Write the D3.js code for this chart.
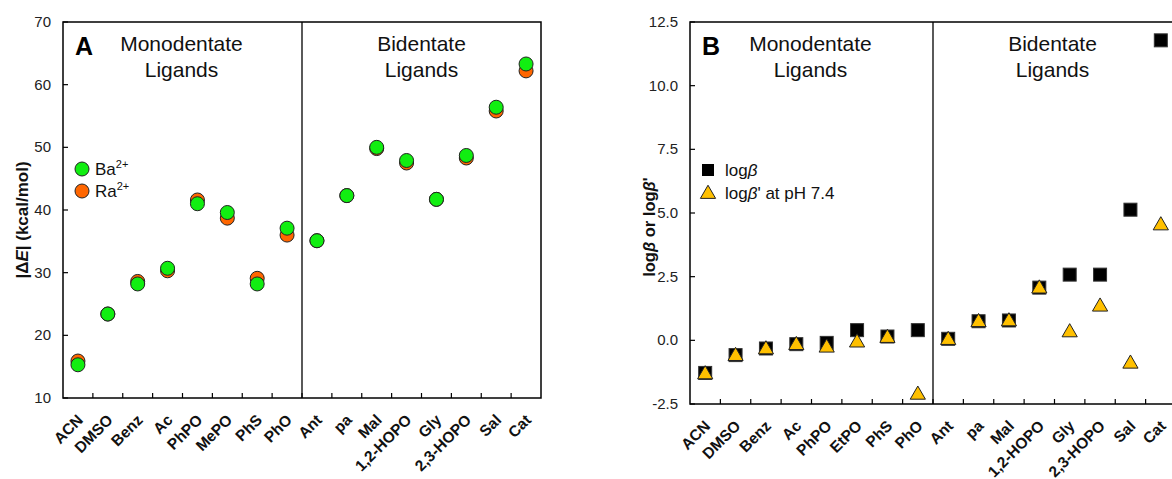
<!DOCTYPE html>
<html>
<head>
<meta charset="utf-8">
<script src="https://cdn.jsdelivr.net/npm/d3@7"></script>
<style>
  body { margin: 0; background: #fff; }
  svg { font-family: "Liberation Sans", Arial, sans-serif; display: block; }
</style>
</head>
<body>
<svg id="chart" width="1172" height="479"></svg>
<script>
// Panel A: |dE| for Ba2+ and Ra2+
const catsA = ["ACN", "DMSO", "Benz", "Ac", "PhPO", "MePO", "PhS", "PhO",
               "Ant", "pa", "Mal", "1,2-HOPO", "Gly", "2,3-HOPO", "Sal", "Cat"];
const baA = [15.3, 23.4, 28.2, 30.7, 41.0, 39.6, 28.2, 37.1,
             35.1, 42.3, 50.0, 47.9, 41.7, 48.7, 56.4, 63.3];
const raA = [15.9, 23.4, 28.6, 30.3, 41.6, 38.7, 29.1, 36.0,
             35.1, 42.3, 49.8, 47.5, 41.7, 48.3, 55.8, 62.2];
const yTicksA = [10, 20, 30, 40, 50, 60, 70];

// Panel B: log beta and conditional log beta' at pH 7.4
const catsB = ["ACN", "DMSO", "Benz", "Ac", "PhPO", "EtPO", "PhS", "PhO",
               "Ant", "pa", "Mal", "1,2-HOPO", "Gly", "2,3-HOPO", "Sal", "Cat"];
const logBeta = [-1.28, -0.58, -0.32, -0.15, -0.10, 0.40, 0.15, 0.40,
                 0.06, 0.75, 0.78, 2.07, 2.58, 2.58, 5.13, 11.78];
const logBetaP = [-1.30, -0.58, -0.32, -0.15, -0.25, -0.05, 0.13, -2.10,
                  0.05, 0.75, 0.78, 2.07, 0.35, 1.36, -0.88, 4.55];
const yTicksB = [-2.5, 0.0, 2.5, 5.0, 7.5, 10.0, 12.5];

const svg = d3.select("#chart");

// shared bits for one panel
function drawPanel(cfg) {
    const g = svg.append("g");
    const x = d3.scaleBand().domain(cfg.cats).range([cfg.x0, cfg.x1]);
    const y = d3.scaleLinear().domain(cfg.yDomain).range([cfg.y1, cfg.y0]);

    // y ticks (inward) + labels
    cfg.yTicks.forEach(t => {
        g.append("line")
            .attr("x1", cfg.x0).attr("x2", cfg.x0 + 5)
            .attr("y1", y(t)).attr("y2", y(t))
            .attr("stroke", "#000").attr("stroke-width", 1.2);
        g.append("text")
            .attr("x", cfg.x0 - 12).attr("y", y(t) + 5)
            .attr("text-anchor", "end")
            .attr("font-size", 15).attr("fill", "#222")
            .text(cfg.yFmt(t));
    });

    // x ticks at category boundaries (inward)
    cfg.cats.forEach((c, i) => {
        if (i === 0) return;
        g.append("line")
            .attr("x1", x(c)).attr("x2", x(c))
            .attr("y1", cfg.y1).attr("y2", cfg.y1 - 5)
            .attr("stroke", "#000").attr("stroke-width", 1.2);
    });

    // divider between mono- and bidentate ligands
    const divX = x(cfg.cats[8]);
    g.append("line")
        .attr("x1", divX).attr("x2", divX)
        .attr("y1", cfg.y0).attr("y2", cfg.y1)
        .attr("stroke", "#000").attr("stroke-width", 1.3);

    // frame
    g.append("rect")
        .attr("x", cfg.x0).attr("y", cfg.y0)
        .attr("width", cfg.x1 - cfg.x0).attr("height", cfg.y1 - cfg.y0)
        .attr("fill", "none").attr("stroke", "#000").attr("stroke-width", 1.5);

    // category labels, rotated
    cfg.cats.forEach(c => {
        const cx = x(c) + x.bandwidth() / 2;
        g.append("text")
            .attr("transform", `translate(${cx + 6},${cfg.y1 + 23}) rotate(-45)`)
            .attr("text-anchor", "end")
            .attr("font-size", 15.5).attr("font-weight", "bold").attr("fill", "#111")
            .text(c);
    });

    // section headings
    const monoCx = (cfg.x0 + divX) / 2 + cfg.headShift;
    const biCx = (divX + cfg.x1) / 2 + cfg.biShift;
    [["Monodentate", monoCx, 0], ["Ligands", monoCx, 26],
     ["Bidentate", biCx, 0], ["Ligands", biCx, 26]].forEach(([t, tx, dy]) => {
        g.append("text")
            .attr("x", tx).attr("y", cfg.y0 + 29 + dy)
            .attr("text-anchor", "middle")
            .attr("font-size", 21).attr("fill", "#111")
            .text(t);
    });

    // panel letter
    g.append("text")
        .attr("x", cfg.x0 + 12).attr("y", cfg.y0 + 33)
        .attr("font-size", 25).attr("font-weight", "bold").attr("fill", "#000")
        .text(cfg.letter);

    return { g, x, y };
}

// ---------- Panel A ----------
const A = drawPanel({
    cats: catsA, x0: 63, x1: 541, y0: 22, y1: 398,
    yDomain: [10, 70], yTicks: yTicksA, yFmt: d3.format("d"),
    letter: "A", headShift: -1, biShift: 0
});
const cxA = c => A.x(c) + A.x.bandwidth() / 2;

A.g.selectAll(".ra").data(catsA).enter().append("circle")
    .attr("cx", d => cxA(d)).attr("cy", (d, i) => A.y(raA[i]))
    .attr("r", 7).attr("fill", "#ff6600").attr("stroke", "#222").attr("stroke-width", 1);
A.g.selectAll(".ba").data(catsA).enter().append("circle")
    .attr("cx", d => cxA(d)).attr("cy", (d, i) => A.y(baA[i]))
    .attr("r", 7).attr("fill", "#11ee11").attr("stroke", "#222").attr("stroke-width", 1);

// y title A
const tA = A.g.append("text")
    .attr("transform", "translate(28,220) rotate(-90)")
    .attr("text-anchor", "middle")
    .attr("font-size", 17).attr("font-weight", "bold").attr("fill", "#111");
tA.append("tspan").text("|Δ");
tA.append("tspan").attr("font-style", "italic").text("E");
tA.append("tspan").text("| (kcal/mol)");

// legend A
[["Ba", "#11ee11", 169], ["Ra", "#ff6600", 191]].forEach(([lab, col, ly]) => {
    A.g.append("circle").attr("cx", 82).attr("cy", ly).attr("r", 7)
        .attr("fill", col).attr("stroke", "#222").attr("stroke-width", 1);
    const t = A.g.append("text").attr("x", 95).attr("y", ly + 6)
        .attr("font-size", 17).attr("fill", "#111");
    t.append("tspan").text(lab);
    t.append("tspan").attr("font-size", 11).attr("dy", -7).text("2+");
});

// ---------- Panel B ----------
const fmtB = v => v.toFixed(1); // plain hyphen minus like the original
const B = drawPanel({
    cats: catsB, x0: 690, x1: 1176, y0: 22, y1: 404,
    yDomain: [-2.5, 12.5], yTicks: yTicksB, yFmt: fmtB,
    letter: "B", headShift: -1, biShift: -2
});
const cxB = c => B.x(c) + B.x.bandwidth() / 2;
const tri = d3.symbol().type(d3.symbolTriangle).size(100);

B.g.selectAll(".sq").data(catsB).enter().append("rect")
    .attr("x", d => cxB(d) - 6.5).attr("y", (d, i) => B.y(logBeta[i]) - 6.5)
    .attr("width", 13).attr("height", 13)
    .attr("fill", "#000").attr("stroke", "#333").attr("stroke-width", 1);
B.g.selectAll(".tri").data(catsB).enter().append("path")
    .attr("d", tri)
    .attr("transform", (d, i) => `translate(${cxB(d)},${B.y(logBetaP[i]) + 1})`)
    .attr("fill", "#ffc000").attr("stroke", "#222").attr("stroke-width", 1);

// y title B
const tB = B.g.append("text")
    .attr("transform", "translate(655,227) rotate(-90)")
    .attr("text-anchor", "middle")
    .attr("font-size", 16.5).attr("font-weight", "bold").attr("fill", "#111");
tB.append("tspan").text("log");
tB.append("tspan").attr("font-style", "italic").text("β");
tB.append("tspan").text(" or log");
tB.append("tspan").attr("font-style", "italic").text("β");
tB.append("tspan").text("'");

// legend B
B.g.append("rect").attr("x", 702).attr("y", 164).attr("width", 12).attr("height", 12)
    .attr("fill", "#000");
B.g.append("path").attr("d", tri).attr("transform", "translate(708,194)")
    .attr("fill", "#ffc000").attr("stroke", "#222").attr("stroke-width", 1);
const l1 = B.g.append("text").attr("x", 725).attr("y", 176)
    .attr("font-size", 17).attr("fill", "#111");
l1.append("tspan").text("log");
l1.append("tspan").attr("font-style", "italic").text("β");
const l2 = B.g.append("text").attr("x", 725).attr("y", 199)
    .attr("font-size", 17).attr("fill", "#111");
l2.append("tspan").text("log");
l2.append("tspan").attr("font-style", "italic").text("β");
l2.append("tspan").text("' at pH 7.4");
</script>
</body>
</html>
